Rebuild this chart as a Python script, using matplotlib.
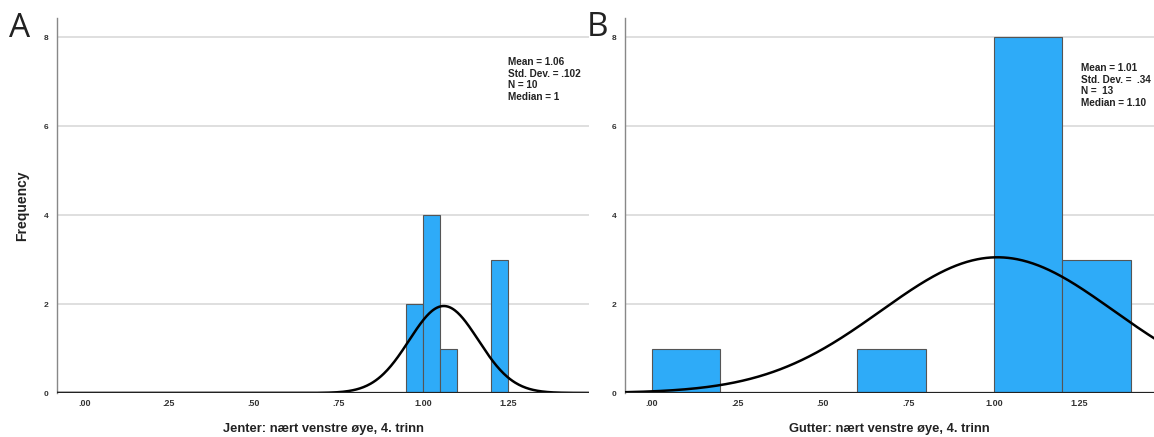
import numpy as np
import matplotlib
matplotlib.use("Agg")
import matplotlib.pyplot as plt

# Panel A data (Jenter)
a_bin_left = [0.95, 1.00, 1.05, 1.20]
a_counts = [2, 4, 1, 3]
a_binwidth = 0.05
a_mean, a_sd, a_n = 1.06, 0.102, 10
a_stats = "Mean = 1.06\nStd. Dev. = .102\nN = 10\nMedian = 1"
a_xlabel = "Jenter: nært venstre øye, 4. trinn"

# Panel B data (Gutter)
b_bin_left = [0.00, 0.60, 1.00, 1.20]
b_counts = [1, 1, 8, 3]
b_binwidth = 0.20
b_mean, b_sd, b_n = 1.01, 0.34, 13
b_stats = "Mean = 1.01\nStd. Dev. =  .34\nN =  13\nMedian = 1.10"
b_xlabel = "Gutter: nært venstre øye, 4. trinn"

xticks = [0.0, 0.25, 0.5, 0.75, 1.0, 1.25]
xticklabels = [".00", ".25", ".50", ".75", "1.00", "1.25"]
yticks = [0, 2, 4, 6, 8]

plt.rcParams['font.family'] = ['Liberation Sans', 'DejaVu Sans']

fig = plt.figure(figsize=(11.54, 4.37), dpi=100)
W, H = 1154, 437

def make_ax(x0, x1, y0, y1):
    return fig.add_axes([x0 / W, 1 - y1 / H, (x1 - x0) / W, (y1 - y0) / H])

axA = make_ax(57, 589, 18, 393)
axB = make_ax(625, 1154, 18, 393)

def draw(ax, lefts, counts, bw, mean, sd, n, stats, xlabel, xlim, stats_pos, ylabel=None):
    ax.set_xlim(*xlim)
    ax.set_ylim(0, 8.43)
    for y in yticks[1:]:
        ax.axhline(y, color='#dcdcdc', lw=1.3, zorder=0)
    ax.bar(lefts, counts, width=bw, align='edge', color='#2eabf8',
           edgecolor='#555555', linewidth=0.8, zorder=2)
    xs = np.linspace(xlim[0], xlim[1], 600)
    ys = n * bw / (sd * np.sqrt(2 * np.pi)) * np.exp(-0.5 * ((xs - mean) / sd) ** 2)
    ax.plot(xs, ys, color='black', lw=1.8, zorder=3, clip_on=True)
    ax.axhline(0, color='#222222', lw=1.6, zorder=4)
    for s in ['top', 'right', 'bottom']:
        ax.spines[s].set_visible(False)
    ax.spines['left'].set_color('#888888')
    ax.spines['left'].set_linewidth(1.0)
    ax.set_xticks(xticks)
    ax.set_xticklabels(xticklabels, fontsize=6.5, fontweight='bold', color='#333333')
    ax.set_yticks(yticks)
    ax.set_yticklabels([str(v) for v in yticks], fontsize=6, fontweight='bold', color='#333333')
    ax.tick_params(axis='x', length=0, pad=4)
    ax.tick_params(axis='y', length=0, pad=6)
    ax.set_xlabel(xlabel, fontsize=9.3, fontweight='bold', color='#222222', labelpad=11)
    if ylabel:
        ax.set_ylabel(ylabel, fontsize=10, fontweight='bold', color='#222222', labelpad=11)
    ax.text(stats_pos[0], stats_pos[1], stats, transform=ax.transAxes, fontsize=7.2,
            fontweight='bold', color='#222222', va='top', ha='left', linespacing=1.2)

draw(axA, a_bin_left, a_counts, a_binwidth, a_mean, a_sd, a_n, a_stats, a_xlabel,
     (-0.08, 1.488), ((508 - 57) / 532, (393 - 57) / 375), ylabel="Frequency")
draw(axB, b_bin_left, b_counts, b_binwidth, b_mean, b_sd, b_n, b_stats, b_xlabel,
     (-0.079, 1.468), ((1081 - 625) / 529, (393 - 63) / 375))

fig.text(9 / W, 1 - 37 / H, "A", fontsize=24, color='#222222', family='Open Sans')
fig.text(587 / W, 1 - 36 / H, "B", fontsize=24, color='#222222', family='Open Sans')

fig.savefig("out.png", dpi=100)
